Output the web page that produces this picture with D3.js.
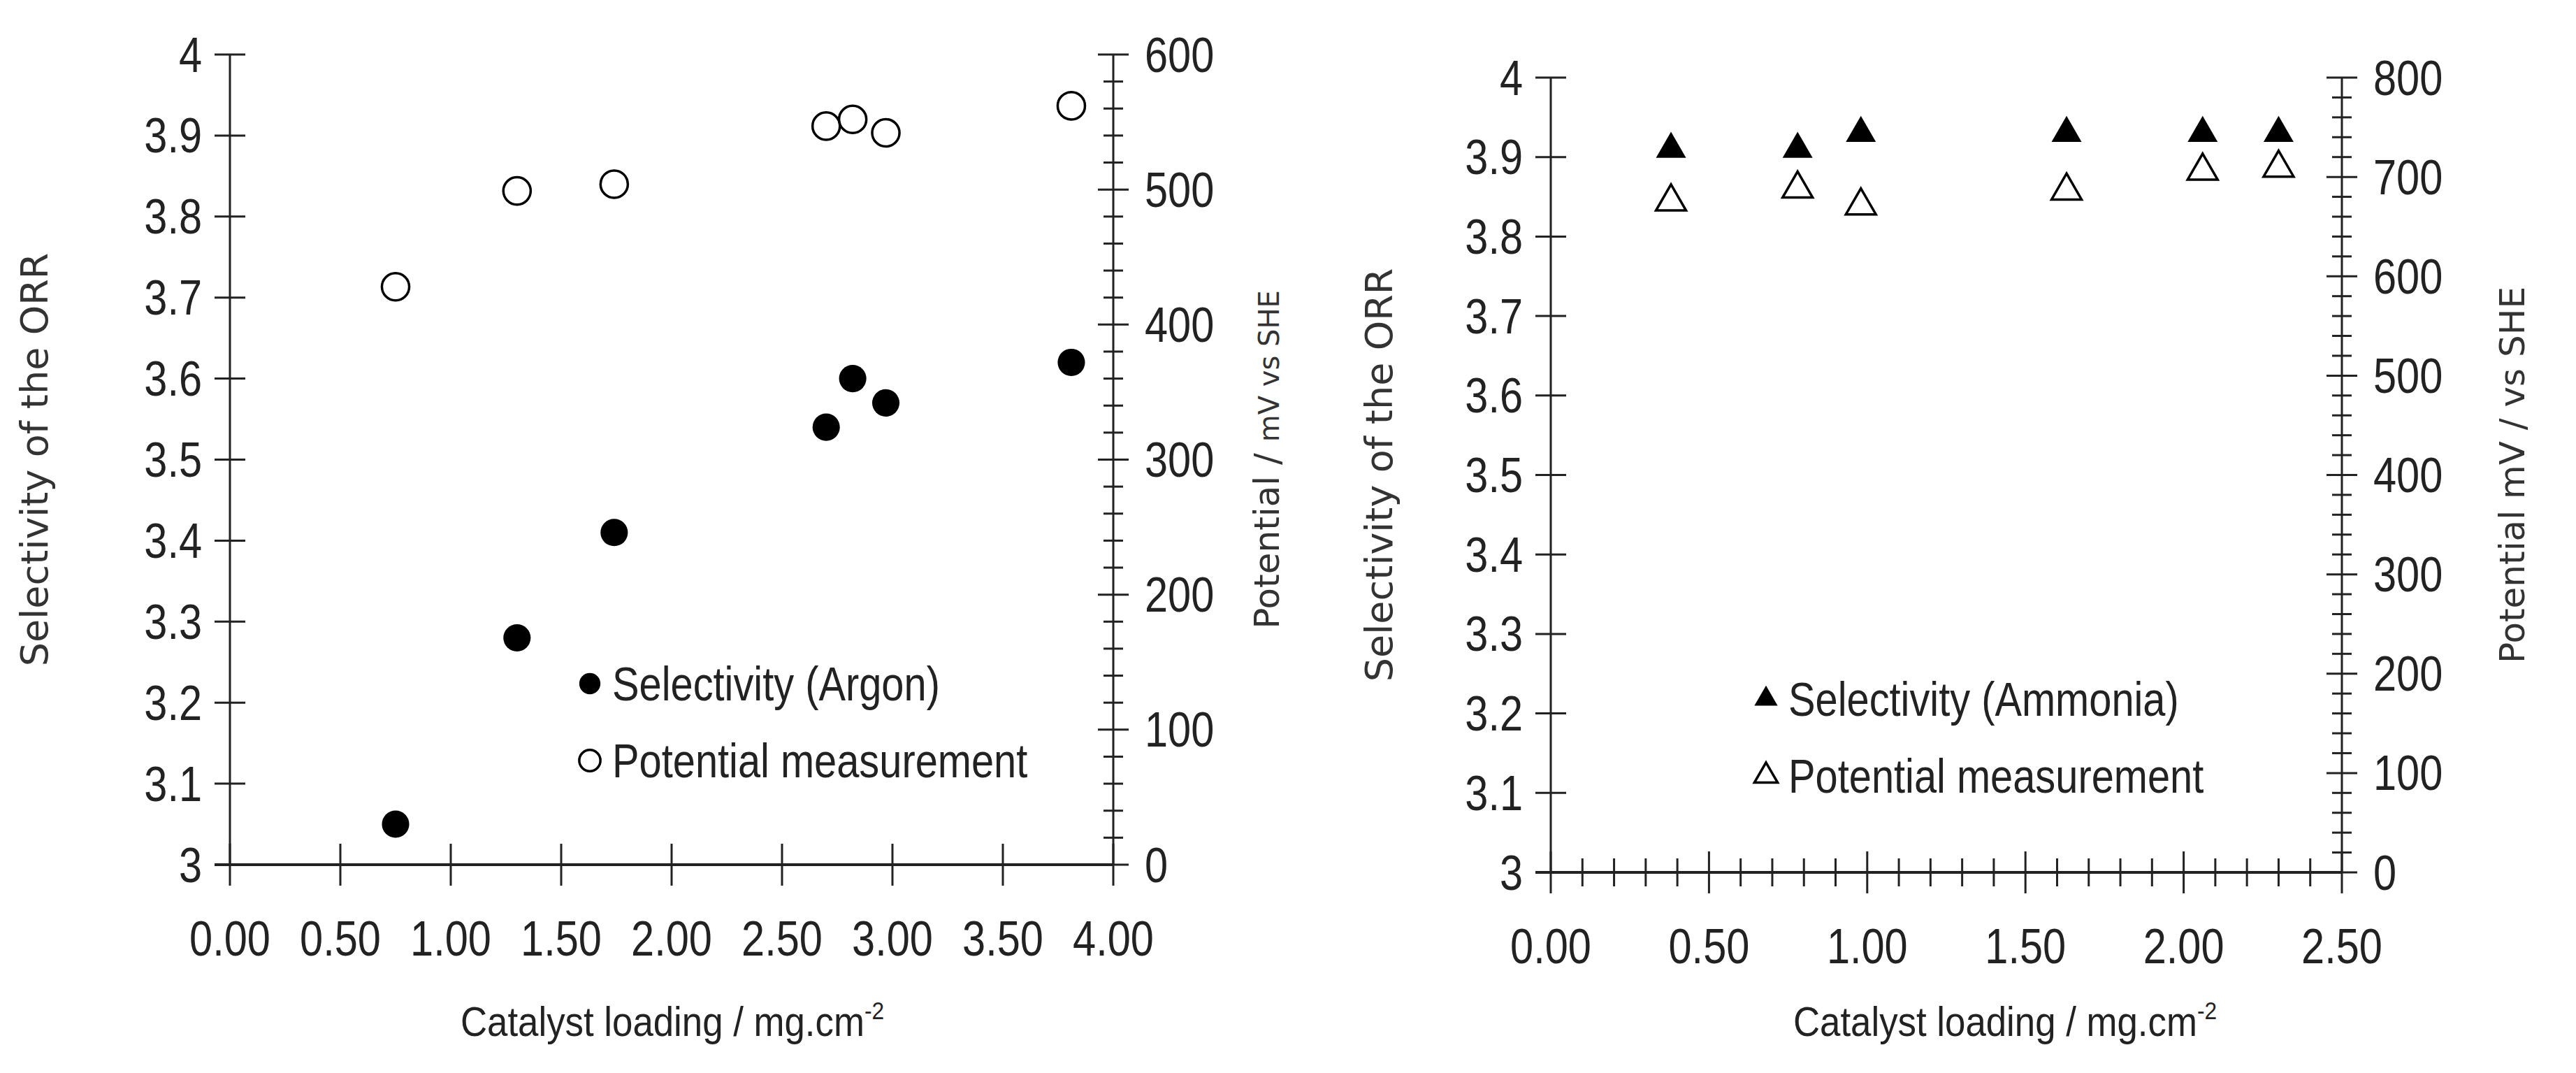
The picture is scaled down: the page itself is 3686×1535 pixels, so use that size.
<!DOCTYPE html>
<html><head><meta charset="utf-8">
<script src="https://cdn.jsdelivr.net/npm/d3@7"></script>
<style>body{margin:0;background:#fff}</style></head>
<body><svg id="c" width="3686" height="1535"></svg>
<script>
// Left panel (Argon)
const argonLoading = [0.75, 1.30, 1.74, 2.70, 2.82, 2.97, 3.81];
const argonSelectivity = [3.05, 3.28, 3.41, 3.54, 3.60, 3.57, 3.62];
const argonPotential = [428, 499, 504, 547, 552, 542, 562];
// Right panel (Ammonia)
const ammoniaLoading = [0.38, 0.78, 0.98, 1.63, 2.06, 2.30];
const ammoniaSelectivity = [3.91, 3.91, 3.93, 3.93, 3.93, 3.93];
const ammoniaPotential = [675, 688, 671, 686, 706, 709];
const selTicks = [3, 3.1, 3.2, 3.3, 3.4, 3.5, 3.6, 3.7, 3.8, 3.9, 4];
const xTicksLeft = [0, 0.5, 1, 1.5, 2, 2.5, 3, 3.5, 4];
const xTicksRight = [0, 0.5, 1, 1.5, 2, 2.5];

const svg = d3.select("#c");
const tickFont = "'Liberation Sans Narrow','Liberation Sans',sans-serif";
const titleFont = "'DejaVu Sans',Verdana,sans-serif";
const col = "#222";

function panel(o){
  const g = svg.append("g");
  const x = d3.scaleLinear().domain([0,o.xmax]).range([o.x0,o.x1]);
  const y = d3.scaleLinear().domain([3,4]).range([o.y0,o.y1]);
  const y2 = d3.scaleLinear().domain([0,o.pmax]).range([o.y0,o.y1]);
  const ln = (x1,y1,x2,y2,w)=>g.append("line").attr("x1",x1).attr("y1",y1).attr("x2",x2).attr("y2",y2).attr("stroke",col).attr("stroke-width",w||3);
  const txt = (xx,yy,anchor,size,t)=>g.append("text").attr("transform",`translate(${xx},${yy}) scale(0.85,1)`)
     .attr("dy","0.35em").attr("text-anchor",anchor).style("font",`${size}px ${tickFont}`).attr("fill",col).text(t);
  ln(o.x0,o.y0,o.x0,o.y1);
  ln(o.x0-22,o.y0,o.x1,o.y0,4);
  ln(o.x1,o.y0,o.x1,o.y1);
  selTicks.forEach(v=>{ln(o.x0-22,y(v),o.x0+22,y(v));
    txt(o.x0-40,y(v),"end",70,v===3||v===4?d3.format("d")(v):v.toFixed(1));});
  o.xt.forEach(v=>{ln(x(v),o.y0-30,x(v),o.y0+30);
    txt(x(v),o.y0+105,"middle",70,v.toFixed(2));});
  if(o.xminor){ d3.range(0.1,o.xmax,0.1).forEach(v=>{ if(Math.abs(v*2-Math.round(v*2))>0.01) ln(x(v),o.y0-20,x(v),o.y0+20);}); }
  for(let v=0; v<=o.pmax+0.1; v+=20){
    const maj = v%100===0;
    ln(o.x1-(maj?22:14),y2(v),o.x1+(maj?22:14),y2(v));
    if(maj) txt(o.x1+45,y2(v),"start",70,v);
  }
  g.append("text").attr("transform",`translate(${o.ytx},${(o.y0+o.y1)/2}) rotate(-90)`).attr("text-anchor","middle")
   .style("font",`54px ${titleFont}`).attr("fill","#333").text("Selectivity of the ORR");
  const t2 = g.append("text").attr("transform",`translate(${o.y2tx},${(o.y0+o.y1)/2}) rotate(-90)`).attr("text-anchor","middle")
   .style("font",`40px ${titleFont}`).attr("fill","#333");
  t2.append("tspan").style("font-size","50px").text(o.y2a);
  t2.append("tspan").text(o.y2b);
  const xt = g.append("text").attr("transform",`translate(${o.xtx},1482) scale(0.88,1)`).attr("text-anchor","middle")
   .style("font",`60px ${tickFont}`).attr("fill",col).text(o.xtitle);
  xt.append("tspan").attr("dy",-24).style("font-size","36px").text("-2");
  const sym = d3.symbol().type(o.sym).size(o.symSize);
  o.xs.forEach((v,i)=>{
    g.append("path").attr("d",sym).attr("transform",`translate(${x(v)},${y(o.sel[i])})`).attr("fill","#000");
    g.append("path").attr("d",sym).attr("transform",`translate(${x(v)},${y2(o.pot[i])})`).attr("fill","none").attr("stroke","#000").attr("stroke-width",3.5);
  });
  const lsym = d3.symbol().type(o.sym).size(o.symSize*0.6);
  o.leg.forEach((t,i)=>{
    const ly = o.ly + i*110;
    g.append("path").attr("d",lsym).attr("transform",`translate(${o.lx},${ly})`)
     .attr("fill",i===0?"#000":"none").attr("stroke","#000").attr("stroke-width",i===0?0:3.5);
    txt(o.lx+32,ly,"start",68,t);
  });
}

panel({x0:329,x1:1593,y0:1237,y1:78,xmax:4,pmax:600,xt:xTicksLeft,xminor:false,
  xs:argonLoading,sel:argonSelectivity,pot:argonPotential,sym:d3.symbolCircle,symSize:1200,
  ytx:68,y2tx:1830,y2a:"Potential / ",y2b:"mV vs SHE",xtx:962,xtitle:"Catalyst loading  / mg.cm",
  lx:844,ly:978,leg:["Selectivity (Argon)","Potential measurement"]});
panel({x0:2219,x1:3351,y0:1248,y1:111,xmax:2.5,pmax:800,xt:xTicksRight,xminor:true,
  xs:ammoniaLoading,sel:ammoniaSelectivity,pot:ammoniaPotential,sym:d3.symbolTriangle,symSize:800,
  ytx:1992,y2tx:3612,y2a:"Potential mV / vs SHE",y2b:"",xtx:2869,xtitle:"Catalyst loading / mg.cm",
  lx:2527,ly:1000,leg:["Selectivity (Ammonia)","Potential measurement"]});
</script></body></html>
